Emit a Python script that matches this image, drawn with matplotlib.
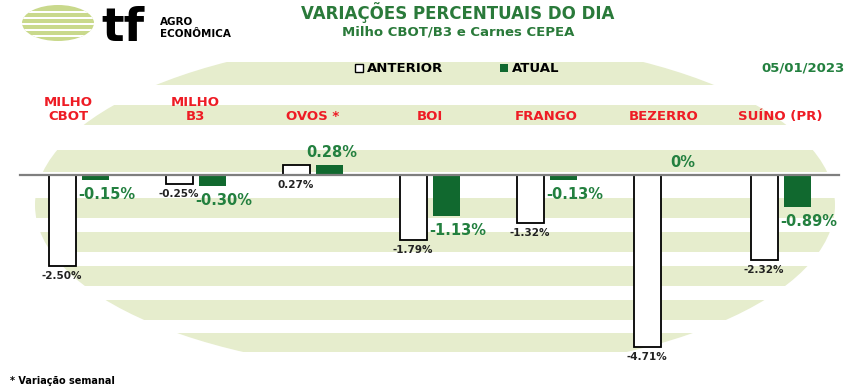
import matplotlib
matplotlib.use("Agg")
import matplotlib.pyplot as plt
from matplotlib.patches import Ellipse, Rectangle
import numpy as np

# ---------------- data ----------------
categories = ["MILHO\nCBOT", "MILHO\nB3", "OVOS *", "BOI", "FRANGO", "BEZERRO", "SUÍNO (PR)"]
anterior = [-2.50, -0.25, 0.27, -1.79, -1.32, -4.71, -2.32]
atual = [-0.15, -0.30, 0.28, -1.13, -0.13, 0.0, -0.89]
anterior_labels = ["-2.50%", "-0.25%", "0.27%", "-1.79%", "-1.32%", "-4.71%", "-2.32%"]
atual_labels = ["-0.15%", "-0.30%", "0.28%", "-1.13%", "-0.13%", "0%", "-0.89%"]
title = "VARIAÇÕES PERCENTUAIS DO DIA"
subtitle = "Milho CBOT/B3 e Carnes CEPEA"
date_text = "05/01/2023"
footnote = "* Variação semanal"

W, H = 858, 392
fig = plt.figure(figsize=(W / 100, H / 100), dpi=100)
fig.patch.set_facecolor("white")

GREEN_BAR = "#11692f"
GREEN_TXT = "#23803f"
TITLE_GREEN = "#2a7a3a"
RED = "#ee1c25"
BAND = "#e6edcd"

# ---------------- background decoration (pixel coords) ----------------
bg = fig.add_axes([0, 0, 1, 1], zorder=0)
bg.set_xlim(0, W)
bg.set_ylim(H, 0)
bg.axis("off")
clip = Ellipse((435, 205), 800, 335, transform=bg.transData, facecolor="none", edgecolor="none")
bg.add_patch(clip)
bands = [(62, 85), (105, 125), (150, 172), (198, 218), (232, 252), (266, 286), (300, 320), (333, 352)]
for (t, b) in bands:
    r = Rectangle((0, t), W, b - t, facecolor=BAND, edgecolor="none")
    bg.add_patch(r)
    r.set_clip_path(clip)

# logo area
bg.add_patch(Rectangle((0, 0), 258, 45, facecolor="white", edgecolor="none"))
logo = Ellipse((58, 23), 72, 36, facecolor="#c9d98c", edgecolor="none")
bg.add_patch(logo)
for yy in [11, 17, 23, 29, 35]:
    s = Rectangle((20, yy), 80, 2.2, facecolor="white", edgecolor="none")
    bg.add_patch(s)
    s.set_clip_path(logo)
bg.text(101, 41, "tf", fontsize=34, fontweight="heavy", color="black", ha="left", va="baseline",
        family="DejaVu Sans")
bg.text(160, 25, "AGRO", fontsize=7.5, fontweight="bold", color="black", ha="left", va="baseline")
bg.text(160, 37, "ECONÔMICA", fontsize=7.5, fontweight="bold", color="black", ha="left", va="baseline")

# titles / legend
bg.text(458, 13, title, fontsize=12, fontweight="bold", color=TITLE_GREEN, ha="center", va="center")
bg.text(458, 32, subtitle, fontsize=9.5, fontweight="bold", color=TITLE_GREEN, ha="center", va="center")
bg.add_patch(Rectangle((355, 64), 8, 8, facecolor="white", edgecolor="black", linewidth=1.0))
bg.text(367, 68, "ANTERIOR", fontsize=9.5, fontweight="bold", color="black", ha="left", va="center")
bg.add_patch(Rectangle((500, 64), 8, 8, facecolor=GREEN_BAR, edgecolor="none"))
bg.text(512, 68, "ATUAL", fontsize=9.5, fontweight="bold", color="black", ha="left", va="center")
bg.text(845, 68, date_text, fontsize=9.5, fontweight="bold", color=GREEN_TXT, ha="right", va="center")
bg.text(10, 381, footnote, fontsize=7, fontweight="bold", color="black", ha="left", va="center")

# ---------------- chart ----------------
ax = fig.add_axes([0, 0, 1, 1], zorder=1)
ax.patch.set_alpha(0)
px_per_unit = 117.0
xmin = -78.5 / px_per_unit
ax.set_xlim(xmin, xmin + W / px_per_unit)
px_per_pct = 36.5
ax.set_ylim(-(H - 175) / px_per_pct, 175 / px_per_pct)
ax.axis("off")

x = np.arange(len(categories))
off = 16.5 / px_per_unit
bw = 27 / px_per_unit

ax.bar(x - off, anterior, width=bw, facecolor="white", edgecolor="black", linewidth=1.3, zorder=2)
ax.bar(x + off, atual, width=bw, facecolor=GREEN_BAR, edgecolor="none", zorder=2)
ax.plot([-0.5, 6.5], [0, 0], color="#7f7f7f", linewidth=1.6, zorder=3)

PT = 0.72  # points per pixel
label_y = (175 - 123) / px_per_pct
for i, cat in enumerate(categories):
    dx = -10 / px_per_unit if i == 0 else 0
    ax.text(x[i] + dx, label_y, cat, fontsize=9.5, fontweight="bold",
            color=RED, ha="center", va="bottom", linespacing=1.15)
    # anterior labels
    va_ = anterior[i]
    ax.annotate(anterior_labels[i], xy=(x[i] - off, min(va_, 0)), xytext=(0, -5 * PT),
                textcoords="offset points", ha="center", va="top", fontsize=7.5,
                fontweight="bold", color="#222222", zorder=4)
    # atual labels
    vb = atual[i]
    if vb < 0:
        ax.annotate(atual_labels[i], xy=(x[i] + off, vb), xytext=(12 * PT, -7 * PT),
                    textcoords="offset points", ha="center", va="top", fontsize=10.5,
                    fontweight="bold", color=GREEN_TXT, zorder=4)
    else:
        ax.annotate(atual_labels[i], xy=(x[i] + off, vb), xytext=(3 * PT, 5 * PT),
                    textcoords="offset points", ha="center", va="bottom", fontsize=10.5,
                    fontweight="bold", color=GREEN_TXT, zorder=4)

fig.savefig("out.png", dpi=100, facecolor="white")
